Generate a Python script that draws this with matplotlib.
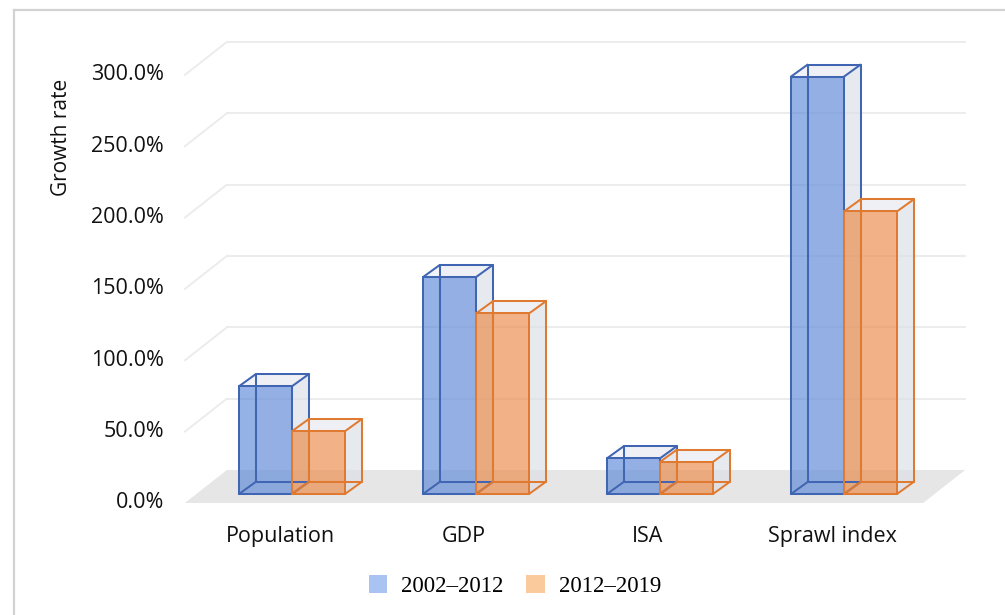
import numpy as np
import matplotlib.pyplot as plt
from matplotlib.patches import Polygon, Patch
from matplotlib.lines import Line2D

categories = ["Population", "GDP", "ISA", "Sprawl index"]
series_names = ["2002\u20132012", "2012\u20132019"]
growth_2002_2012 = [75.5, 152.0, 25.0, 292.5]
growth_2012_2019 = [44.0, 126.5, 22.5, 198.0]
tick_values = [0, 50, 100, 150, 200, 250, 300]
tick_labels = ["0.0%", "50.0%", "100.0%", "150.0%", "200.0%", "250.0%", "300.0%"]

edge_colors = ["#3f65b3", "#e07a30"]
face_colors = ["#4f7fd6", "#ed7d31"]
face_alpha = [0.6, 0.58]
legend_colors = ["#a9c3f3", "#fbca9c"]

# fake 3D geometry (category units on x, percent on y)
bar_w = 0.288
bar_dx, bar_dy = 0.09, 8.4          # depth of a single bar
floor_front, floor_back = -6.3, 16.8
floor_x = (-0.582, 3.43)
wall_dx = 0.228                     # depth of the floor / walls

ui_font = "Open Sans"
text_color = "#111111"


def draw_box(ax, x0, height, color, alpha, edge):
    x1 = x0 + bar_w
    dx, dy = bar_dx, bar_dy
    back = [(x0 + dx, dy), (x1 + dx, dy), (x1 + dx, height + dy), (x0 + dx, height + dy)]
    side = [(x1, 0), (x1 + dx, dy), (x1 + dx, height + dy), (x1, height)]
    top = [(x0, height), (x1, height), (x1 + dx, height + dy), (x0 + dx, height + dy)]
    front = [(x0, 0), (x1, 0), (x1, height), (x0, height)]
    ax.add_patch(Polygon(back, closed=True, fc="#eef0f4", alpha=0.35, ec="none", zorder=3))
    ax.add_patch(Polygon(side, closed=True, fc="#d8dce5", alpha=0.55, ec="none", zorder=3))
    ax.add_patch(Polygon(top, closed=True, fc="#e2e6ee", alpha=0.45, ec="none", zorder=3))
    ax.add_patch(Polygon(front, closed=True, fc=color, alpha=alpha, ec="none", zorder=3))
    # all twelve edges of the cube
    segs = [
        [(x0, 0), (x1, 0)], [(x0, height), (x1, height)],
        [(x0, 0), (x0, height)], [(x1, 0), (x1, height)],
        [(x0 + dx, dy), (x1 + dx, dy)], [(x0 + dx, height + dy), (x1 + dx, height + dy)],
        [(x0 + dx, dy), (x0 + dx, height + dy)], [(x1 + dx, dy), (x1 + dx, height + dy)],
        [(x0, 0), (x0 + dx, dy)], [(x1, 0), (x1 + dx, dy)],
        [(x0, height), (x0 + dx, height + dy)], [(x1, height), (x1 + dx, height + dy)],
    ]
    for s in segs:
        xs, ys = zip(*s)
        ax.plot(xs, ys, color=edge, lw=1.45, zorder=4, solid_capstyle="round")


fig = plt.figure(figsize=(10.05, 6.15), dpi=100)
ax = fig.add_axes([0, 0, 1, 1])
ax.set_xlim(-292 / 184, (1005 - 292) / 184)
ax.set_ylim((494 - 615) / 1.427, 494 / 1.427)
ax.axis("off")

# floor
floor = [(floor_x[0], floor_front), (floor_x[1], floor_front),
         (floor_x[1] + wall_dx, floor_back), (floor_x[0] + wall_dx, floor_back)]
ax.add_patch(Polygon(floor, closed=True, fc="#e6e6e6", ec="none", zorder=1))

# gridlines on the back wall plus the short diagonal on the left wall
for v in tick_values[1:]:
    ax.plot([floor_x[0] + wall_dx, floor_x[1] + wall_dx], [v + floor_back, v + floor_back],
            color="#ebebeb", lw=1.3, zorder=0)
    ax.plot([floor_x[0], floor_x[0] + wall_dx], [v + floor_front, v + floor_back],
            color="#ebebeb", lw=1.3, zorder=0)

for v, lab in zip(tick_values, tick_labels):
    ax.text(-0.696, v + floor_front, lab, ha="right", va="center",
            fontsize=15.5, family=ui_font, color=text_color)

ax.text(-1.25, 250.2, "Growth rate", rotation=90, ha="center", va="center",
        fontsize=15, family=ui_font, color=text_color)

x = np.arange(len(categories))
for i, c in enumerate(x):
    draw_box(ax, c - bar_w, growth_2002_2012[i], face_colors[0], face_alpha[0], edge_colors[0])
    draw_box(ax, c, growth_2012_2019[i], face_colors[1], face_alpha[1], edge_colors[1])
    ax.text(c - 0.065, -30.1, categories[i], ha="center", va="center",
            fontsize=15.5, family=ui_font, color=text_color)

handles = [Patch(fc=legend_colors[0], ec="none"), Patch(fc=legend_colors[1], ec="none")]
fig.legend(handles, series_names, loc="center", bbox_to_anchor=(515 / 1005, 1 - 586 / 615),
           ncol=2, frameon=False, handlelength=0.8, handleheight=0.8, handletextpad=0.6,
           columnspacing=1.0, prop={"family": "Liberation Serif", "size": 16.5})

# thin frame around the chart area (top and left edges only show)
fig.add_artist(Line2D([14 / 1005, 1], [1 - 10 / 615, 1 - 10 / 615], color="#d2d2d2", lw=1.6))
fig.add_artist(Line2D([14 / 1005, 14 / 1005], [0, 1 - 10 / 615], color="#d2d2d2", lw=1.6))

fig.savefig("out.png", dpi=100)
